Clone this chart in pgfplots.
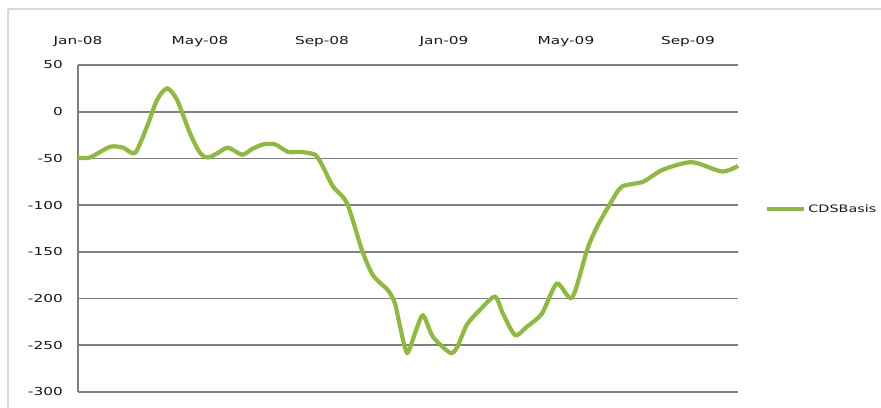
\documentclass[border=0pt]{standalone}
\usepackage{fontspec}
\setmainfont{DejaVu Sans}[FakeStretch=1.4]
\usepackage{pgfplots}
\pgfplotsset{compat=1.18}
\definecolor{linegreen}{HTML}{8CBB40}
\definecolor{gridgray}{HTML}{808080}
\definecolor{framegray}{HTML}{D9D9D9}
\begin{document}
\begin{tikzpicture}[x=1bp,y=1bp]
\useasboundingbox (0,0) rectangle (881,407);
\begin{scope}
\clip (0,0) rectangle (881,407);
\draw[framegray, line width=1.5bp] (8,398) -- (900,398);
\draw[framegray, line width=1.5bp] (8,398) -- (8,-10);
\end{scope}
\begin{axis}[
  at={(78bp,15bp)}, anchor=south west,
  width=660bp, height=327bp, scale only axis,
  xmin=0, xmax=21.64, ymin=-300, ymax=50,
  ytick={-300,-250,...,50},
  xtick={0,4,8,12,16,20},
  xticklabels={Jan-08,May-08,Sep-08,Jan-09,May-09,Sep-09},
  xticklabel pos=upper,
  xticklabel style={anchor=base, yshift=21bp},
  yticklabel style={anchor=east, inner sep=0pt, xshift=-15bp},
  tick label style={font=\fontsize{11}{13}\selectfont, text=black!90},
  /pgf/number format/assume math mode=true,
  major tick length=0pt,
  ymajorgrids,
  grid style={gridgray, line width=1.6bp},
  axis line style={draw=none},
  legend style={at={(1.041,0.56)}, anchor=west, draw=none, fill=none, inner sep=0pt,
    font=\fontsize{10.3}{12}\selectfont, text=black!90},
  legend cell align=left,
  legend image code/.code={\draw[#1] (0bp,0bp) -- (37bp,0bp);},
  clip=false,
]
\draw[gridgray, line width=2bp] (axis cs:0,-300) -- (axis cs:0,50);
\addplot[linegreen, line width=4.2bp, smooth, tension=0.45] coordinates {
(0,-49) (0.39,-49) (1.05,-37.5) (1.48,-38.5) (1.87,-44) (2.26,-16) (2.59,12.5)
(2.92,25) (3.25,12.5) (3.67,-23) (4.0,-44) (4.26,-49) (4.59,-44) (4.92,-38.5)
(5.38,-46) (5.70,-40) (6.07,-35) (6.46,-35) (6.89,-43) (7.28,-43) (7.77,-46)
(8.0,-57) (8.36,-80) (8.82,-98) (9.31,-148) (9.67,-175) (10.16,-191) (10.39,-205)
(10.56,-230) (10.79,-258) (11.05,-237) (11.31,-218) (11.64,-241) (12.20,-258)
(12.43,-252) (12.75,-228) (13.18,-212) (13.67,-198) (13.93,-216) (14.33,-239)
(14.72,-230) (15.21,-216) (15.70,-184) (16.20,-199) (16.69,-148) (17.02,-123)
(17.51,-95) (17.84,-80) (18.52,-75) (19.18,-62) (20.13,-54) (21.11,-64) (21.64,-58)
};
\addlegendentry{CDSBasis}
\end{axis}
\end{tikzpicture}
\end{document}
